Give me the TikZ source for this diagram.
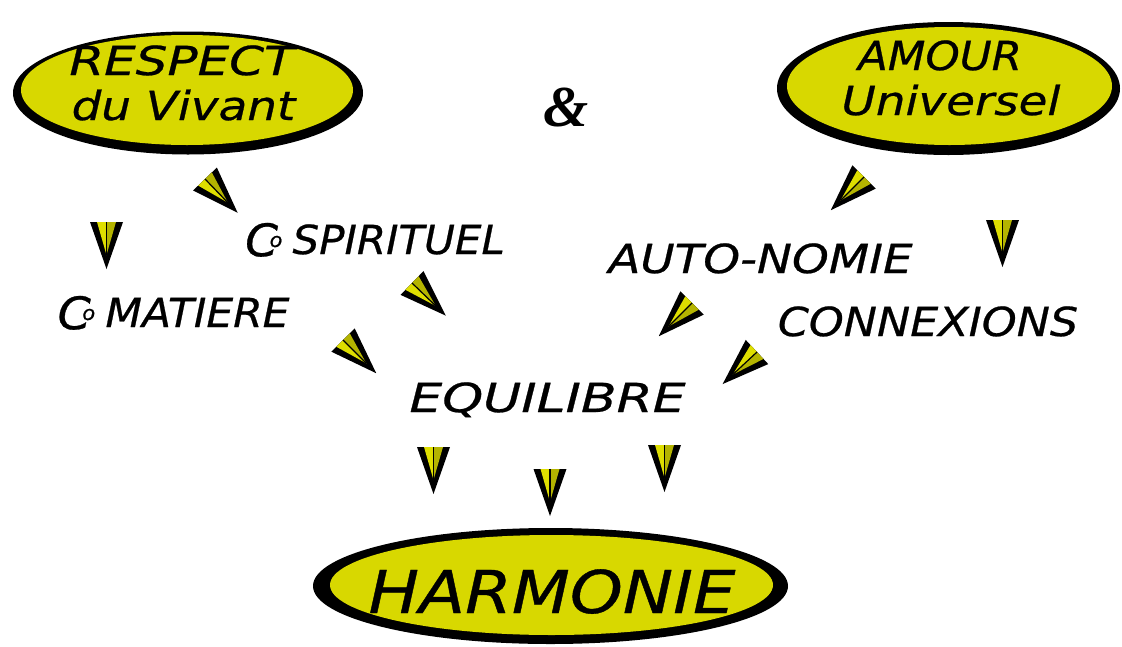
\documentclass[tikz,border=0pt]{standalone}
\usepackage{fontspec}
\setmainfont{DejaVu Sans}[ItalicFeatures={FakeBold=0.6}]
\newfontfamily\ampfont{Liberation Serif}
\usepackage{graphicx}

% small o sitting in the mouth of a big C
\newcommand{\cosign}{\raisebox{-.1ex}{\scalebox{1.12}{C}}\kern-.2em\raisebox{.32ex}{\scalebox{.5}{o}}\kern.24em}

\tikzset{
  word/.style={anchor=base, transform shape, font=\fontsize{40}{48}\selectfont\itshape},
  bigword/.style={word, font=\fontsize{59}{70}\selectfont\itshape},
  arrowtip/.pic={
    \fill[black] (-16.5,0) -- (16.5,0) -- (0,47) -- cycle;
    \fill[tipyellow] (-9.5,0) -- (0,0) -- (0,33) -- cycle;
    \fill[tipdark] (0,0) -- (9.5,0) -- (0,33) -- cycle;
    \draw[line width=1.2pt] (0,0) -- (0,33);
  }
}

\begin{document}
\begin{tikzpicture}[x=1pt, y=-1pt]
  % Define colors
  \definecolor{ovalyellow}{RGB}{216,216,0}
  \definecolor{tipyellow}{RGB}{222,222,0}
  \definecolor{tipdark}{RGB}{180,180,0}

  \useasboundingbox (0,0) rectangle (1122,646);

  % Draw ovals (black shadow, then yellow face)
  \fill[black] (188,93) ellipse [x radius=175, y radius=61.5];
  \fill[ovalyellow] (187,90) ellipse [x radius=166, y radius=55];
  \fill[black] (948.5,88.5) ellipse [x radius=171.5, y radius=66.5];
  \fill[ovalyellow] (949.5,86) ellipse [x radius=162.5, y radius=59];
  \fill[black] (550.5,586) ellipse [x radius=237.5, y radius=58];
  \fill[ovalyellow] (551.5,585) ellipse [x radius=221.5, y radius=50];

  % Oval labels
  \node[word, xscale=1.25] (respect) at (182,75) {RESPECT};
  \node[word, xscale=1.17] (vivant) at (183.5,120) {du Vivant};
  \node[word, xscale=1.09] (amour) at (940,70) {AMOUR};
  \node[word, xscale=1.17] (universel) at (951,115) {Universel};
  \node[bigword, xscale=1.14] (harmonie) at (552,613) {HARMONIE};
  \node[anchor=base, font=\fontsize{58}{60}\selectfont\ampfont\bfseries\itshape] (and) at (566,126) {\&};

  % Middle words
  \node[word, xscale=1.05] (spirituel) at (375,254) {\cosign SPIRITUEL};
  \node[word, xscale=1.06] (matiere) at (173.5,327) {\cosign MATIERE};
  \node[word, xscale=1.17] (autonomie) at (760.5,273) {AUTO-NOMIE};
  \node[word, xscale=1.11] (connexions) at (928,336) {CONNEXIONS};
  \node[word, xscale=1.30] (equilibre) at (547.5,412) {EQUILIBRE};

  % Arrow tips
  \pic[rotate=44] at (205,179) {arrowtip};
  \pic at (106.5,222) {arrowtip};
  \pic[rotate=46] at (412,283) {arrowtip};
  \pic[rotate=45] at (343,340) {arrowtip};
  \pic[rotate=-45] at (864,177) {arrowtip};
  \pic at (1002.5,220) {arrowtip};
  \pic[rotate=-45] at (692,303) {arrowtip};
  \pic[rotate=-47] at (757,352) {arrowtip};
  \pic at (433.5,447) {arrowtip};
  \pic at (550,469) {arrowtip};
  \pic at (664.5,445) {arrowtip};
\end{tikzpicture}
\end{document}
